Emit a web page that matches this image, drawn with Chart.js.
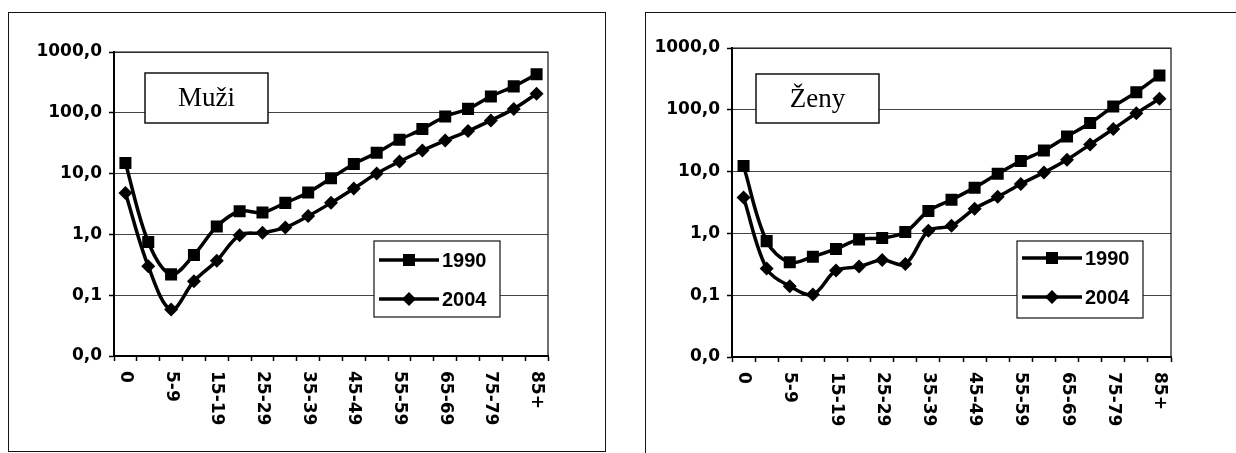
<!DOCTYPE html>
<html>
<head>
<meta charset="utf-8">
<script src="https://cdn.jsdelivr.net/npm/chart.js@4.4.1/dist/chart.umd.min.js"></script>
<style>
  body { margin: 0; background: #fff; }
  #wrap { position: relative; width: 1236px; height: 453px; overflow: hidden; background: #fff; }
  .panel { position: absolute; border: 1.5px solid #111; box-sizing: border-box; }
  canvas { position: absolute; top: 0; }
</style>
</head>
<body>
<div id="wrap">
  <div class="panel" style="left:8px;top:12px;width:598px;height:440px;"></div>
  <div class="panel" style="left:645px;top:12px;width:620px;height:460px;"></div>
  <canvas id="chart-men" width="620" height="453" style="left:0"></canvas>
  <canvas id="chart-women" width="616" height="453" style="left:620px"></canvas>
</div>
<script>
const ageGroups = ['0', '1-4', '5-9', '10-14', '15-19', '20-24', '25-29', '30-34', '35-39', '40-44',
    '45-49', '50-54', '55-59', '60-64', '65-69', '70-74', '75-79', '80-84', '85+'];
const seriesNames = ['1990', '2004'];

const men1990 = [15, 0.75, 0.22, 0.46, 1.35, 2.4, 2.3, 3.3, 4.9, 8.4, 14.4, 22, 36, 54, 87, 116, 186, 272, 430];
const men2004 = [4.8, 0.3, 0.058, 0.17, 0.37, 0.97, 1.06, 1.3, 2.0, 3.3, 5.7, 10, 15.8, 24, 35, 50, 75, 116, 206];
const women1990 = [12.3, 0.75, 0.34, 0.42, 0.56, 0.8, 0.84, 1.05, 2.3, 3.5, 5.5, 9.2, 14.8, 22, 37, 61, 113, 193, 360];
const women2004 = [3.8, 0.27, 0.14, 0.103, 0.25, 0.29, 0.37, 0.32, 1.1, 1.33, 2.5, 3.9, 6.3, 9.7, 15.6, 27.5, 49, 88, 151];

const yTickValues = [0.01, 0.1, 1, 10, 100, 1000];
const yTickLabels = ['0,0', '0,1', '1,0', '10,0', '100,0', '1000,0'];

const TICK_FONT = { family: 'DejaVu Sans', weight: 'bold', size: 17 };

// frame, rotated x labels, title box, legend box
function panelDecor(title, titleBox, legendBox) {
    return {
        id: 'panelDecor',
        afterDraw(chart) {
            const ctx = chart.ctx;
            const a = chart.chartArea;
            const xs = chart.scales.x;
            ctx.save();

            ctx.strokeStyle = '#111';
            ctx.lineWidth = 1.2;
            ctx.beginPath();
            ctx.moveTo(a.left, a.top);
            ctx.lineTo(a.right, a.top);
            ctx.lineTo(a.right, a.bottom);
            ctx.stroke();

            // x labels read top to bottom, every second age group
            ctx.fillStyle = '#000';
            ctx.font = 'bold 17px "DejaVu Sans"';
            ctx.textAlign = 'left';
            ctx.textBaseline = 'middle';
            ageGroups.forEach((lab, i) => {
                if (i % 2) return;
                const x = xs.getPixelForValue(i);
                ctx.save();
                ctx.translate(x, a.bottom + 15);
                ctx.rotate(Math.PI / 2);
                ctx.fillText(lab, 0, 0);
                ctx.restore();
            });

            // title box
            ctx.fillStyle = '#fff';
            ctx.fillRect(titleBox.x, titleBox.y, titleBox.w, titleBox.h);
            ctx.lineWidth = 1.5;
            ctx.strokeStyle = '#111';
            ctx.strokeRect(titleBox.x, titleBox.y, titleBox.w, titleBox.h);
            ctx.fillStyle = '#000';
            ctx.font = '27px "Liberation Serif"';
            ctx.textAlign = 'center';
            ctx.textBaseline = 'middle';
            ctx.fillText(title, titleBox.x + titleBox.w / 2, titleBox.y + titleBox.h / 2 + 1);

            // legend
            const L = legendBox;
            ctx.fillStyle = '#fff';
            ctx.fillRect(L.x, L.y, L.w, L.h);
            ctx.lineWidth = 1.2;
            ctx.strokeRect(L.x, L.y, L.w, L.h);
            chart.data.datasets.forEach((ds, k) => {
                const y = L.y + L.rowY[k];
                const x1 = L.x + 5, x2 = L.x + 65, xm = (x1 + x2) / 2;
                ctx.strokeStyle = '#000';
                ctx.lineWidth = 3.5;
                ctx.beginPath();
                ctx.moveTo(x1, y);
                ctx.lineTo(x2, y);
                ctx.stroke();
                ctx.fillStyle = '#000';
                if (ds.pointStyle === 'rect') {
                    ctx.fillRect(xm - 6, y - 6, 12, 12);
                } else {
                    ctx.beginPath();
                    ctx.moveTo(xm, y - 7);
                    ctx.lineTo(xm + 7, y);
                    ctx.lineTo(xm, y + 7);
                    ctx.lineTo(xm - 7, y);
                    ctx.closePath();
                    ctx.fill();
                }
                ctx.font = 'bold 20px "Liberation Sans"';
                ctx.textAlign = 'left';
                ctx.textBaseline = 'middle';
                ctx.fillText(ds.label, x2 + 3, y + 1);
            });
            ctx.restore();
        },
    };
}

function makeChart(id, d1990, d2004, box, title, titleBox, legendBox) {
    const canvas = document.getElementById(id);
    const ctx = canvas.getContext('2d');
    return new Chart(ctx, {
        type: 'line',
        data: {
            labels: ageGroups,
            datasets: [
                {
                    label: seriesNames[0],
                    data: d1990,
                    borderColor: '#000',
                    backgroundColor: '#000',
                    borderWidth: 3.5,
                    pointStyle: 'rect',
                    pointRadius: 8.5,
                    pointBorderWidth: 0,
                    tension: 0.35,
                },
                {
                    label: seriesNames[1],
                    data: d2004,
                    borderColor: '#000',
                    backgroundColor: '#000',
                    borderWidth: 3.5,
                    pointStyle: 'rectRot',
                    pointRadius: 7,
                    pointBorderWidth: 0,
                    tension: 0.35,
                },
            ],
        },
        plugins: [panelDecor(title, titleBox, legendBox)],
        options: {
            responsive: false,
            animation: false,
            layout: { padding: { top: box.top, right: canvas.width - box.right, left: 0, bottom: 0 } },
            plugins: { legend: { display: false }, tooltip: { enabled: false } },
            scales: {
                x: {
                    type: 'category',
                    offset: true,
                    afterFit: s => { s.height = canvas.height - box.bottom; },
                    ticks: { display: false },
                    grid: {
                        offset: true,
                        drawOnChartArea: false,
                        drawTicks: true,
                        tickLength: 5,
                        tickColor: '#000',
                        tickWidth: 1.5,
                    },
                    border: { color: '#000', width: 2 },
                },
                y: {
                    type: 'logarithmic',
                    min: 0.01,
                    max: 1000,
                    afterFit: s => { s.width = box.left; },
                    afterBuildTicks: s => { s.ticks = yTickValues.map(v => ({ value: v })); },
                    ticks: {
                        callback: (v, i) => yTickLabels[i],
                        color: '#000',
                        font: TICK_FONT,
                        padding: 7,
                    },
                    grid: {
                        color: '#444',
                        lineWidth: 1,
                        tickLength: 5,
                        tickColor: '#000',
                        tickWidth: 1.5,
                    },
                    border: { color: '#000', width: 2 },
                },
            },
        },
    });
}

makeChart('chart-men', men1990, men2004,
    { left: 114, right: 548, top: 52, bottom: 356 },
    'Muži', { x: 145, y: 73, w: 123, h: 50 },
    { x: 374, y: 241, w: 126, h: 76, rowY: [19, 58] });

makeChart('chart-women', women1990, women2004,
    { left: 112, right: 551, top: 48, bottom: 357 },
    'Ženy', { x: 136, y: 74, w: 123, h: 49 },
    { x: 397, y: 241, w: 126, h: 77, rowY: [17, 56] });
</script>
</body>
</html>
